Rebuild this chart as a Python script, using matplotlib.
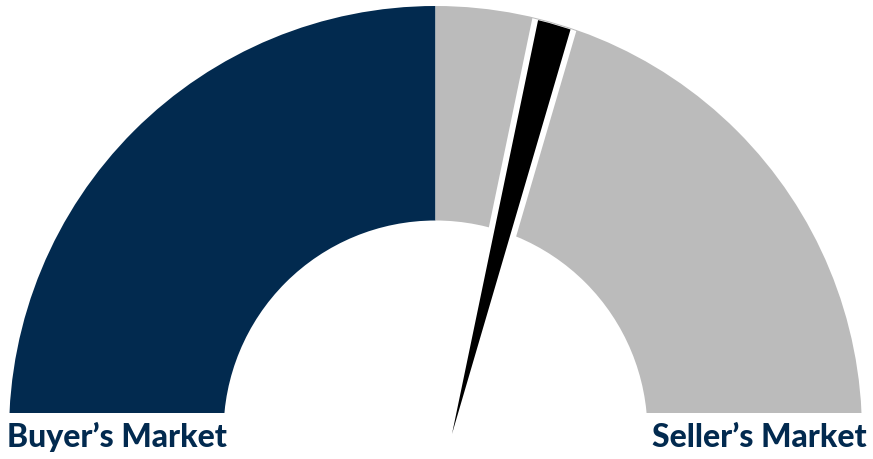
import numpy as np
import matplotlib
matplotlib.use("Agg")
import matplotlib.pyplot as plt
from matplotlib.patches import Wedge, Rectangle, Circle, Polygon

# ---- data ----
segments = ["Buyer\u2019s Market", "Seller\u2019s Market"]
segment_shares = [50, 50]          # percent of gauge scale
segment_colors = ["#022a4f", "#bbbbbb"]
needle_value = 57.8                # percent of gauge scale

# ---- layout (pixel-like data units) ----
W, H = 873, 459
cx, cy = 435.5, 432.5
R_out, R_in = 426.5, 212.0
clip_y = 412.5
pivot_off = (16.5, 1.5)
needle_k = 0.04        # half-width per unit length
border = 6.0
white_start = 199.0

fig = plt.figure(figsize=(W / 100, H / 100), dpi=100)
ax = fig.add_axes([0, 0, 1, 1])
ax.set_xlim(0, W)
ax.set_ylim(H, 0)
ax.axis("off")

clip_rect = Rectangle((0, 0), W, clip_y, transform=ax.transData)

start = 180.0
total = sum(segment_shares)
for share, col in zip(segment_shares, segment_colors):
    span = share / total * 180.0
    w = Wedge((cx, cy), R_out, start, start + span, width=R_out - R_in,
              facecolor=col, edgecolor="none", antialiased=True)
    ax.add_patch(w)
    w.set_clip_path(clip_rect)
    start += span

# needle
theta = np.deg2rad(180.0 + needle_value / 100.0 * 180.0)
d = np.array([np.cos(theta), np.sin(theta)])
perp = np.array([-d[1], d[0]])
P = np.array([cx + pivot_off[0], cy + pivot_off[1]])
L = 460.0

outer_clip = Circle((cx, cy), R_out - 1.5, transform=ax.transData)

wa = P + white_start * d
wb = P + L * d
hw_a = needle_k * white_start + border
hw_b = needle_k * L + border
white_poly = Polygon([wa + hw_a * perp, wb + hw_b * perp, wb - hw_b * perp, wa - hw_a * perp],
                     closed=True, facecolor="white", edgecolor="none")
ax.add_patch(white_poly)
white_poly.set_clip_path(Circle((cx, cy), R_out - 1.0, transform=ax.transData))

hb = needle_k * L
black_poly = Polygon([P, wb + hb * perp, wb - hb * perp], closed=True,
                     facecolor="black", edgecolor="none")
ax.add_patch(black_poly)
black_poly.set_clip_path(outer_clip)

# labels
font = dict(family=["Lato", "DejaVu Sans"], fontweight="black", fontsize=23.0,
            color=segment_colors[0])
ax.text(7, 447, segments[0], ha="left", va="baseline", **font)
ax.text(867, 447, segments[1], ha="right", va="baseline", **font)

fig.savefig("out.png", dpi=100)
